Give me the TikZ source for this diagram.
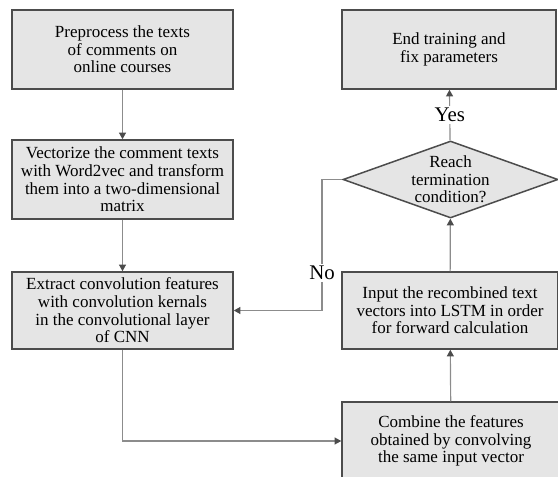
\documentclass[tikz,border=0pt]{standalone}
\usepackage{fontspec}
\setmainfont{Liberation Serif}
\usetikzlibrary{positioning}
\usetikzlibrary{shapes.geometric}
\usetikzlibrary{arrows.meta}
\definecolor{boxfill}{rgb}{0.9,0.9,0.9}
\definecolor{boxline}{rgb}{0.3,0.3,0.3}
\definecolor{arrline}{rgb}{0.55,0.55,0.55}

\begin{document}
\begin{tikzpicture}[x=0.6pt, y=-0.6pt,
		box/.style = {draw=boxline, fill=boxfill, line width=0.9pt, align=center, inner sep=0pt,
			font=\fontsize{10.2}{10.6}\selectfont},
		r/.style = {-{Triangle[length=4pt, width=4.2pt, color=boxline]}, draw=arrline, line width=0.7pt},
		lbl/.style = {fill=white, inner sep=1pt, font=\fontsize{12.5}{13}\selectfont},
		]
		
		\useasboundingbox (0, 0) rectangle (558, 477);
		\clip (0, 0) rectangle (558, 477);
		
		% left column
		\node[box, minimum width=132.6pt, minimum height=47.4pt] (prep) at (122.5, 49.5)
			{Preprocess the texts\\ of comments on\\ online courses};
		\node[box, minimum width=132.6pt, minimum height=47.4pt] (vec) at (122.5, 179.5)
			{Vectorize the comment texts\\ with Word2vec and transform\\ them into a two-dimensional\\ matrix};
		\node[box, minimum width=132.6pt, minimum height=46.2pt] (ext) at (122.5, 310.5)
			{Extract convolution features\\ with convolution kernals\\ in the convolutional layer\\ of CNN};
		
		% right column
		\node[box, minimum width=128.4pt, minimum height=47.4pt] (fin) at (449, 49.5)
			{End training and\\ fix parameters};
		\node[box, diamond, aspect=2.8, minimum width=129pt, minimum height=46.2pt] (dia) at (450.5, 179.5)
			{Reach\\ termination\\ condition?};
		\node[box, minimum width=129.6pt, minimum height=46.2pt] (lstm) at (450, 310.5)
			{Input the recombined text\\ vectors into LSTM in order\\ for forward calculation};
		\node[box, minimum width=130.8pt, minimum height=46.8pt] (comb) at (451, 441)
			{Combine the features\\ obtained by convolving\\ the same input vector};
		
		\draw[r]	(prep)	to	(vec);
		\draw[r]	(vec)	to	(ext);
		\draw[r]	(ext.south)	|-	(comb.west);
		\draw[r]	(comb)	to	(lstm);
		\draw[r]	(lstm)	to	(dia);
		\draw[r]	(dia)	to	node[lbl] (yes) {Yes}	(fin);
		
		\coordinate (nocorner) at (322, 310.5);
		\draw[r]	(dia.west)	-|	(nocorner)	--	(ext.east);
		\node[lbl] (no) at (322, 273) {No};
	\end{tikzpicture}
\end{document}
